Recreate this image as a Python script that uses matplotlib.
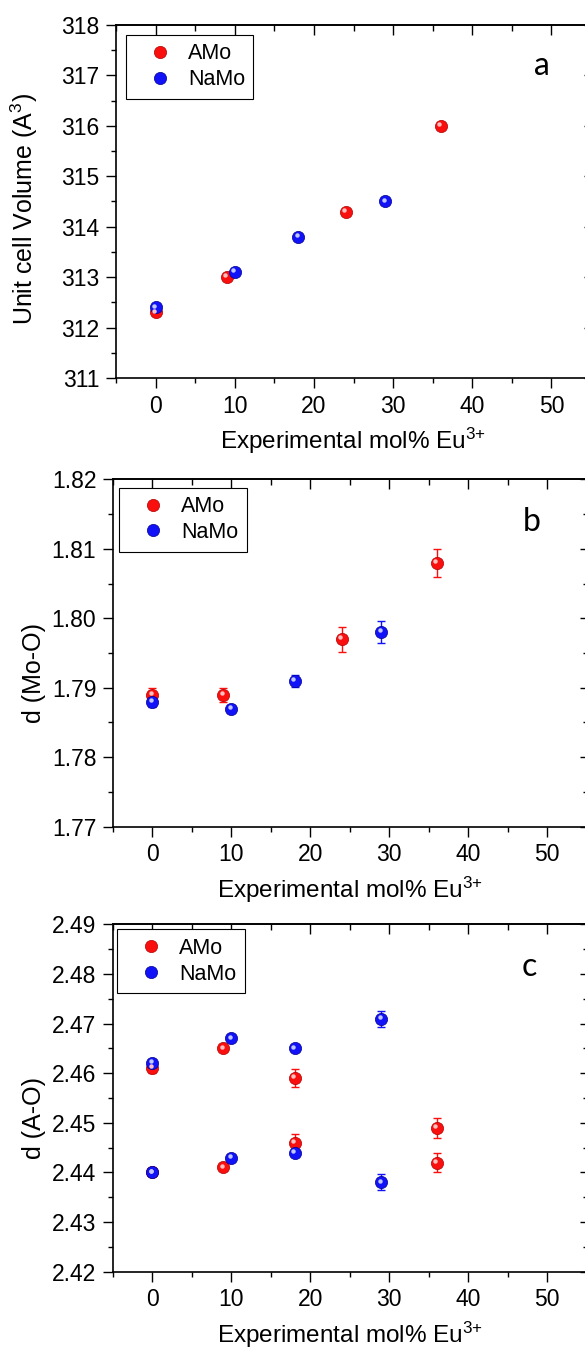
import matplotlib
matplotlib.use("Agg")
import matplotlib.pyplot as plt
from matplotlib.ticker import MultipleLocator, NullFormatter
from matplotlib.lines import Line2D
import matplotlib.transforms as mtransforms

plt.rcParams['font.family'] = ['Liberation Sans', 'DejaVu Sans']
plt.rcParams['mathtext.fontset'] = 'custom'
plt.rcParams['mathtext.rm'] = 'Liberation Sans'
plt.rcParams['mathtext.it'] = 'Liberation Sans:italic'

# (a) unit cell volume
vol_amo_x = [0, 9, 24, 36]
vol_amo = [312.3, 313.0, 314.3, 316.0]
vol_namo_x = [0, 10, 18, 29]
vol_namo = [312.4, 313.1, 313.8, 314.5]

# (b) Mo-O distance
mo_amo_x = [0, 9, 24, 36]
mo_amo = [1.789, 1.789, 1.797, 1.808]
mo_amo_err = [0.001, 0.001, 0.0018, 0.002]
mo_namo_x = [0, 10, 18, 29]
mo_namo = [1.788, 1.787, 1.791, 1.798]
mo_namo_err = [0.0008, 0.0005, 0.0009, 0.0016]

# (c) A-O distances, two per composition
ao_amo_x = [0, 9, 18, 36]
ao_amo_long = [2.461, 2.465, 2.459, 2.449]
ao_amo_long_err = [0.001, 0.0005, 0.0018, 0.002]
ao_amo_short = [2.440, 2.441, 2.446, 2.442]
ao_amo_short_err = [0.0005, 0.0005, 0.0018, 0.002]
ao_namo_x = [0, 10, 18, 29]
ao_namo_long = [2.462, 2.467, 2.465, 2.471]
ao_namo_long_err = [0.0005, 0.0005, 0.0005, 0.0016]
ao_namo_short = [2.440, 2.443, 2.444, 2.438]
ao_namo_short_err = [0.0005, 0.0005, 0.0005, 0.0016]

RED = dict(face='#fa0f0f', edge='#b00000', light='#ffc0c0')
BLUE = dict(face='#1212f8', edge='#000090', light='#c0c8ff')
MS = 8.8

fig = plt.figure(figsize=(5.85, 13.49), dpi=100)


def sphere(ax, x, y, c, yerr=None):
    """Shaded ball markers (with optional error bars)."""
    if yerr is not None:
        ax.errorbar(x, y, yerr=yerr, fmt='none', ecolor=c['face'],
                    elinewidth=1.0, capsize=3.2, capthick=1.0, zorder=3)
    ax.plot(x, y, 'o', ms=MS, mfc=c['face'], mec=c['edge'], mew=0.5,
            ls='none', zorder=4)
    shift = mtransforms.offset_copy(ax.transData, fig=fig, x=-1.4, y=1.8, units='dots')
    ax.plot(x, y, 'o', ms=3.2, mfc=c['light'], mec='none', ls='none',
            transform=shift, zorder=5)


def style(ax, ymin, ymax, ymaj, ymin_step, ylabel, letter, leg_xy, letter_xy, lab_xy):
    ax.set_xlim(-5, 55)
    ax.set_ylim(ymin, ymax)
    ax.xaxis.set_major_locator(MultipleLocator(10))
    ax.xaxis.set_minor_locator(MultipleLocator(5))
    ax.yaxis.set_major_locator(MultipleLocator(ymaj))
    ax.yaxis.set_minor_locator(MultipleLocator(ymin_step))
    ax.tick_params(which='both', direction='out', width=1.0, labelsize=16.5,
                   top=False, right=False)
    ax.tick_params(which='major', length=7, pad=5)
    ax.tick_params(which='minor', length=3.7)
    for s in ax.spines.values():
        s.set_linewidth(1.2)

    top = ax.secondary_xaxis('top')
    top.xaxis.set_major_locator(MultipleLocator(10))
    top.xaxis.set_minor_locator(MultipleLocator(5))
    top.xaxis.set_major_formatter(NullFormatter())
    top.tick_params(which='both', direction='in', width=1.0)
    top.tick_params(which='major', length=7)
    top.tick_params(which='minor', length=4.5)
    top.spines['top'].set_linewidth(1.2)

    right = ax.secondary_yaxis('right')
    right.yaxis.set_major_locator(MultipleLocator(ymaj))
    right.yaxis.set_minor_locator(MultipleLocator(ymin_step))
    right.yaxis.set_major_formatter(NullFormatter())
    right.tick_params(which='both', direction='in', width=1.0)
    right.tick_params(which='major', length=5)
    right.tick_params(which='minor', length=3)

    ax.set_xlabel(r'Experimental mol% Eu$^{3{+}}$', fontsize=17.5, labelpad=6)
    ax.set_ylabel(ylabel, fontsize=18)
    ax.yaxis.set_label_coords(*lab_xy)

    handles = [
        Line2D([], [], marker='o', ls='none', ms=MS, mfc=RED['face'], mec=RED['edge'], mew=0.5),
        Line2D([], [], marker='o', ls='none', ms=MS, mfc=BLUE['face'], mec=BLUE['edge'], mew=0.5),
    ]
    leg = ax.legend(handles, ['AMo', 'NaMo'], loc='upper left', bbox_to_anchor=leg_xy,
                    borderaxespad=0, fontsize=15.5, handlelength=2.35, handletextpad=0.12,
                    labelspacing=0.22, borderpad=0.4, fancybox=False, framealpha=1,
                    edgecolor='black')
    leg.get_frame().set_linewidth(0.8)

    ax.text(letter_xy[0], letter_xy[1], letter, transform=ax.transAxes,
            ha='center', va='center', fontsize=23, family=['Lato', 'DejaVu Sans'])


# panel a
ax_a = fig.add_axes([116 / 585, 0.7198, 475 / 585, 0.2617])
sphere(ax_a, vol_amo_x, vol_amo, RED)
sphere(ax_a, vol_namo_x, vol_namo, BLUE)
style(ax_a, 311, 318, 1, 0.5, r'Unit cell Volume (A$^3$)', 'a',
      (0.021, 0.972), (0.896, 0.884), (-0.161, 0.479))

# panel b
ax_b = fig.add_axes([113 / 585, 0.3872, 473.5 / 585, 0.2575])
sphere(ax_b, mo_amo_x, mo_amo, RED, mo_amo_err)
sphere(ax_b, mo_namo_x, mo_namo, BLUE, mo_namo_err)
style(ax_b, 1.77, 1.82, 0.01, 0.005, 'd (Mo-O)', 'b',
      (0.0135, 0.976), (0.884, 0.877), (-0.141, 0.442))

# panel c
ax_c = fig.add_axes([113 / 585, 0.0573, 473.5 / 585, 0.2575])
sphere(ax_c, ao_amo_x, ao_amo_long, RED, ao_amo_long_err)
sphere(ax_c, ao_amo_x, ao_amo_short, RED, ao_amo_short_err)
sphere(ax_c, ao_namo_x, ao_namo_long, BLUE, ao_namo_long_err)
sphere(ax_c, ao_namo_x, ao_namo_short, BLUE, ao_namo_short_err)
style(ax_c, 2.42, 2.49, 0.01, 0.005, 'd (A-O)', 'c',
      (0.0095, 0.9856), (0.879, 0.877), (-0.141, 0.442))

fig.savefig('out.png', dpi=100)
